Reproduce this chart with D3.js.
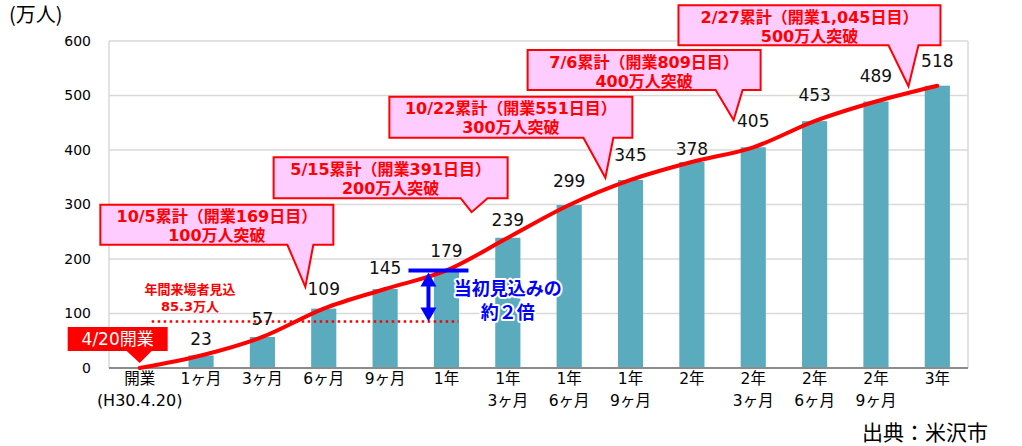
<!DOCTYPE html>
<html>
<head>
<meta charset="utf-8">
<script src="https://cdn.jsdelivr.net/npm/d3@7"></script>
<style>
  body { margin: 0; background: #fff; }
  svg { font-family: "DejaVu Sans", "Noto Sans CJK JP", sans-serif; }
</style>
</head>
<body>
<div id="chart"></div>
<script>
/* DATA */
const categories = ["開業", "1ヶ月", "3ヶ月", "6ヶ月", "9ヶ月", "1年", "1年3ヶ月", "1年6ヶ月",
  "1年9ヶ月", "2年", "2年3ヶ月", "2年6ヶ月", "2年9ヶ月", "3年"];
const visitors = [0, 23, 57, 109, 145, 179, 239, 299, 345, 378, 405, 453, 489, 518];
const yTicks = [0, 100, 200, 300, 400, 500, 600];
const forecast = 85.3;

const calloutLine1 = ["10/5累計（開業169日目）", "5/15累計（開業391日目）", "10/22累計（開業551日目）",
  "7/6累計（開業809日目）", "2/27累計（開業1,045日目）"];
const calloutLine2 = ["100万人突破", "200万人突破", "300万人突破", "400万人突破", "500万人突破"];

/* LAYOUT */
const width = 1022, height = 446;
const margin = { top: 41, bottom: 78, left: 109, right: 54 };
// label lift above bar top, px
const labelLift = [0, 10, 12, 14, 15, 13, 12, 18, 19, 7, 20, 20, 19, 19];
// callout tip (category index, value) + box geometry relative to the tip
const calloutPos = [
  { t: 2.70, v: 149, l: -205, r: 28, top: -82, bot: -42, p0: -18, p1: 8 },
  { t: 5.41, v: 286, l: -198, r: 36, top: -55, bot: -14, p0: -11, p1: 16 },
  { t: 7.59, v: 349, l: -216, r: 27, top: -81, bot: -40, p0: -22, p1: 8 },
  { t: 9.68, v: 455, l: -206, r: 27, top: -70, bot: -30, p0: -18, p1: 9 },
  { t: 12.53, v: 517, l: -230, r: 32, top: -81, bot: -41, p0: -20, p1: 10 }
];

const svg = d3.select("#chart").append("svg")
  .attr("width", width)
  .attr("height", height);

const x = d3.scaleBand()
  .domain(categories)
  .range([margin.left, width - margin.right])
  .paddingInner(0.59)
  .paddingOuter(0.295);

const y = d3.scaleLinear()
  .domain([0, 600])
  .range([height - margin.bottom, margin.top]);

const cx = d => x(d) + x.bandwidth() / 2;
const step = x.step();
const tx = t => margin.left + step * (t + 0.5);

// grid
svg.append("g")
  .selectAll("line")
  .data(yTicks.filter(d => d > 0))
  .join("line")
    .attr("x1", margin.left)
    .attr("x2", width - margin.right)
    .attr("y1", d => y(d))
    .attr("y2", d => y(d))
    .attr("stroke", "#d9d9d9")
    .attr("stroke-width", 1.5);

svg.append("line") // right border
  .attr("x1", width - margin.right).attr("x2", width - margin.right)
  .attr("y1", y(600)).attr("y2", y(0))
  .attr("stroke", "#d9d9d9").attr("stroke-width", 1.5);
svg.append("line") // left axis
  .attr("x1", margin.left).attr("x2", margin.left)
  .attr("y1", y(600)).attr("y2", y(0))
  .attr("stroke", "#d9d9d9").attr("stroke-width", 1.5);

// y axis labels
const yAxis = d3.axisLeft(y).tickValues(yTicks).tickSize(0).tickPadding(18);
svg.append("g")
  .attr("transform", `translate(${margin.left},0)`)
  .call(yAxis)
  .call(g => g.select(".domain").remove())
  .call(g => g.selectAll("text")
    .attr("font-size", 14)
    .attr("font-family", "DejaVu Sans, sans-serif")
    .attr("fill", "#000"));

svg.append("text")
  .attr("x", 9).attr("y", 13)
  .attr("dominant-baseline", "central")
  .attr("font-size", 20)
  .attr("font-family", "Noto Sans CJK JP")
  .text("(万人)");

// bars
svg.append("g")
  .selectAll("rect")
  .data(visitors.map((v, i) => ({ cat: categories[i], v })).filter(d => d.v > 0))
  .join("rect")
    .attr("x", d => x(d.cat))
    .attr("y", d => y(d.v))
    .attr("width", x.bandwidth())
    .attr("height", d => y(0) - y(d.v))
    .attr("fill", "#5aabbe");

// bottom axis line
svg.append("line")
  .attr("x1", margin.left).attr("x2", width - margin.right)
  .attr("y1", y(0)).attr("y2", y(0))
  .attr("stroke", "#8c8c8c").attr("stroke-width", 2);

// x labels
const xLab = svg.append("g")
  .selectAll("text")
  .data(categories)
  .join("text")
    .attr("x", d => cx(d))
    .attr("y", y(0) + 16)
    .attr("text-anchor", "middle")
    .attr("font-size", 15.5)
    .attr("fill", "#000");
xLab.each(function(d) {
  let parts;
  if (d === "開業") parts = ["開業", "(H30.4.20)"];
  else if (d.includes("年") && d.includes("月")) parts = [d.slice(0, d.indexOf("年") + 1), d.slice(d.indexOf("年") + 1)];
  else parts = [d];
  d3.select(this).selectAll("tspan")
    .data(parts)
    .join("tspan")
      .attr("x", cx(d))
      .attr("dy", (p, i) => i === 0 ? "0" : "1.4em")
      .attr("font-size", p => p.startsWith("(") ? 16 : null)
      .text(p => p);
});

// forecast dotted line
svg.append("line")
  .attr("x1", cx(categories[0]) + 12)
  .attr("x2", cx(categories[5]) + 12)
  .attr("y1", y(forecast)).attr("y2", y(forecast))
  .attr("stroke", "#ff0000")
  .attr("stroke-width", 2.5)
  .attr("stroke-dasharray", "2.5,3.5");

svg.append("text")
  .attr("x", 190).attr("y", y(forecast) - 28)
  .attr("text-anchor", "middle")
  .attr("font-size", 13).attr("font-weight", "bold")
  .attr("fill", "#ff0000")
  .call(t => t.append("tspan").attr("x", 190).text("年間来場者見込"))
  .call(t => t.append("tspan").attr("x", 190).attr("dy", 17).text(forecast + "万人"));

// cumulative line
const line = d3.line()
  .x((d, i) => cx(categories[i]))
  .y(d => y(d))
  .curve(d3.curveMonotoneX);

svg.append("path")
  .datum(visitors)
  .attr("d", line)
  .attr("fill", "none")
  .attr("stroke", "#ff0000")
  .attr("stroke-width", 4)
  .attr("stroke-linecap", "round");

// value labels
svg.append("g")
  .selectAll("text")
  .data(visitors.map((v, i) => ({ cat: categories[i], v, i })).filter(d => d.v > 0))
  .join("text")
    .attr("x", d => cx(d.cat))
    .attr("y", d => y(d.v) - labelLift[d.i])
    .attr("text-anchor", "middle")
    .attr("font-size", 17)
    .attr("fill", "#111")
    .text(d => d.v);

// callouts
function calloutPath(tipX, tipY, c) {
  const l = tipX + c.l, r = tipX + c.r, t = tipY + c.top, b = tipY + c.bot;
  return `M${l},${t}H${r}V${b}H${tipX + c.p1}L${tipX},${tipY}L${tipX + c.p0},${b}H${l}Z`;
}

calloutPos.forEach((c, i) => {
  const tipX = tx(c.t), tipY = y(c.v);
  const g = svg.append("g");
  g.append("path")
    .attr("d", calloutPath(tipX, tipY, c))
    .attr("fill", "#ffccff")
    .attr("stroke", "#ff0000")
    .attr("stroke-width", 2);
  const midX = tipX + (c.l + c.r) / 2;
  const top = tipY + c.top;
  g.append("text")
    .attr("x", midX).attr("y", top + 12)
    .attr("dominant-baseline", "central")
    .attr("text-anchor", "middle")
    .attr("font-size", 16).attr("font-weight", "bold")
    .attr("fill", "#ff0000")
    .text(calloutLine1[i]);
  g.append("text")
    .attr("x", midX).attr("y", top + 31)
    .attr("dominant-baseline", "central")
    .attr("text-anchor", "middle")
    .attr("font-size", 16).attr("font-weight", "bold")
    .attr("fill", "#ff0000")
    .text(calloutLine2[i]);
});

// opening marker
const openTip = { x: cx(categories[0]), y: y(0) - 5 };
svg.append("path")
  .attr("d", calloutPath(openTip.x, openTip.y,
    { l: -72, r: 28, top: -36, bot: -12, p0: -13, p1: 12 }))
  .attr("fill", "#ff0000");
svg.append("text")
  .attr("x", openTip.x - 22).attr("y", openTip.y - 24)
  .attr("dominant-baseline", "central")
  .attr("text-anchor", "middle")
  .attr("font-size", 17)
  .attr("fill", "#fff")
  .text("4/20開業");

// "about twice" annotation
const ax = cx(categories[5]) - 18;
svg.append("line")
  .attr("x1", ax - 20).attr("x2", ax + 40)
  .attr("y1", y(visitors[5])).attr("y2", y(visitors[5]))
  .attr("stroke", "#0000ff").attr("stroke-width", 4);
svg.append("line")
  .attr("x1", ax).attr("x2", ax)
  .attr("y1", y(visitors[5]) + 12).attr("y2", y(forecast) - 12)
  .attr("stroke", "#0000ff").attr("stroke-width", 4);
svg.append("path")
  .attr("d", `M${ax},${y(visitors[5]) + 2}L${ax - 8},${y(visitors[5]) + 16}H${ax + 8}Z` +
    `M${ax},${y(forecast)}L${ax - 8},${y(forecast) - 14}H${ax + 8}Z`)
  .attr("fill", "#0000ff");

const bx = cx(categories[6]);
svg.append("text")
  .attr("x", bx).attr("y", y(visitors[5]) + 17)
  .attr("dominant-baseline", "central")
  .attr("text-anchor", "middle")
  .attr("font-size", 18).attr("font-weight", "bold")
  .attr("font-family", "Noto Sans CJK JP")
  .attr("fill", "#0000ff")
  .attr("stroke", "#fff").attr("stroke-width", 4)
  .attr("paint-order", "stroke")
  .attr("stroke-linejoin", "round")
  .call(t => t.append("tspan").attr("x", bx).text("当初見込みの"))
  .call(t => t.append("tspan").attr("x", bx).attr("dy", 24).text("約２倍"));

// source
svg.append("text")
  .attr("x", 988).attr("y", 440)
  .attr("text-anchor", "end")
  .attr("font-size", 21)
  .attr("font-family", "Noto Sans CJK JP")
  .attr("fill", "#000")
  .text("出典：米沢市");
</script>
</body>
</html>
